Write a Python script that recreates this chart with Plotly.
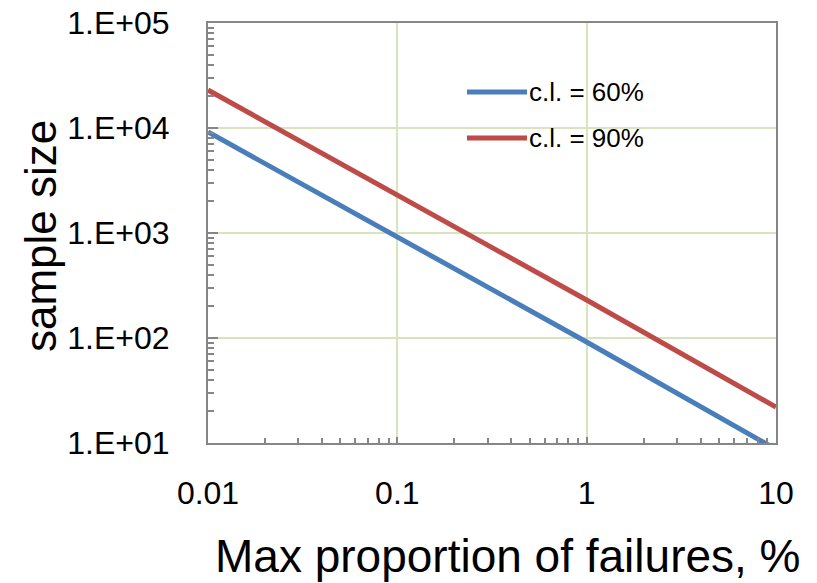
import plotly.graph_objects as go

# ---- data ----
proportion_pct = [0.01, 0.1, 1, 10]
size_cl60 = [9160, 916, 91.6, 8.7]
size_cl90 = [23000, 2300, 230, 22]
series_names = ["c.l. = 60%", "c.l. = 90%"]
x_tick_vals = [0.01, 0.1, 1, 10]
x_tick_text = ["0.01", "0.1", "1", "10"]
y_tick_vals = [10, 100, 1000, 10000, 100000]
y_tick_text = ["1.E+01", "1.E+02", "1.E+03", "1.E+04", "1.E+05"]

BLUE = "#4a7ebb"
RED = "#be4b48"
AXIS = "#868686"
GRID = "#d7e4bd"
FONT = "Liberation Sans, Arial, sans-serif"

def minor_vals(majors):
    out = []
    for m in majors[:-1]:
        for k in range(2, 10):
            out.append(m * k)
    return out

fig = go.Figure()
fig.add_trace(go.Scatter(x=proportion_pct, y=size_cl60, mode="lines", name=series_names[0],
                         line=dict(color=BLUE, width=5), showlegend=False))
fig.add_trace(go.Scatter(x=proportion_pct, y=size_cl90, mode="lines", name=series_names[1],
                         line=dict(color=RED, width=5), showlegend=False))

# target plot area in window pixels: x 208..776, y 23..443 (body margin removed below)
L, R, T, B = 208, 776, 23, 443
W, H = 817, 583
def px(xp):
    return (xp - L) / (R - L)
def py(yp):
    return (B - yp) / (B - T)

# manual legend
for name, col, yy in [(series_names[0], BLUE, 92), (series_names[1], RED, 138)]:
    fig.add_shape(type="line", xref="paper", yref="paper",
                  x0=px(467), x1=px(527), y0=py(yy), y1=py(yy),
                  line=dict(color=col, width=5))
    fig.add_annotation(xref="paper", yref="paper", x=px(527), y=py(yy),
                       xanchor="left", yanchor="middle", text=name, showarrow=False,
                       font=dict(family=FONT, size=26, color="#000000"))

# axis titles
fig.add_annotation(xref="paper", yref="paper", x=px(803), y=py(556),
                   xanchor="right", yanchor="middle", text="Max proportion of failures, %",
                   showarrow=False, font=dict(family=FONT, size=46, color="#000000"))
fig.add_annotation(xref="paper", yref="paper", x=px(40), y=py(236),
                   xanchor="center", yanchor="middle", text="sample size", textangle=-90,
                   showarrow=False, font=dict(family=FONT, size=44, color="#000000"))

fig.update_xaxes(type="log", range=[-2.0001, 1.0001], tickmode="array", tickvals=x_tick_vals,
                 ticktext=x_tick_text, ticks="inside", ticklen=6, tickwidth=1.5, tickcolor=AXIS,
                 showline=True, linecolor=AXIS, linewidth=2, mirror=True, automargin=False,
                 showgrid=True, gridcolor=GRID, gridwidth=1.5, zeroline=False,
                 ticklabeloverflow="allow",
                 tickfont=dict(family=FONT, size=32, color="#000000"), ticklabelstandoff=21,
                 minor=dict(tickmode="array", tickvals=minor_vals(x_tick_vals), ticks="inside",
                            ticklen=5, tickwidth=1.5, tickcolor=AXIS, showgrid=False))
fig.update_yaxes(type="log", range=[0.9999, 5.0001], tickmode="array", tickvals=y_tick_vals,
                 ticktext=y_tick_text, ticks="inside", ticklen=10, tickwidth=1.5, tickcolor=AXIS,
                 showline=True, linecolor=AXIS, linewidth=2, mirror=True, automargin=False,
                 showgrid=True, gridcolor=GRID, gridwidth=1.5, zeroline=False,
                 ticklabeloverflow="allow",
                 tickfont=dict(family=FONT, size=32, color="#000000"), ticklabelstandoff=30,
                 minor=dict(tickmode="array", tickvals=minor_vals(y_tick_vals), ticks="inside",
                            ticklen=6, tickwidth=1.5, tickcolor=AXIS, showgrid=False))

fig.update_layout(width=W, height=H,
                  margin=dict(l=L, r=W - R, t=T, b=H - B),
                  paper_bgcolor="white", plot_bgcolor="white", showlegend=False,
                  font=dict(family=FONT))

fig.write_html("out.html", config={"displayModeBar": False},
               post_script="document.body.style.margin='0';document.body.style.overflow='hidden';")
